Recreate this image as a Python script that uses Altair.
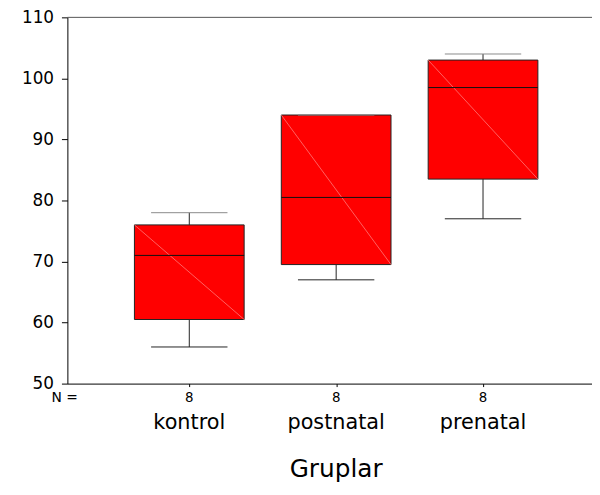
import altair as alt
import pandas as pd

# ---- data ----
groups = ["kontrol", "postnatal", "prenatal"]
n_counts = [8, 8, 8]
mins = [56, 67, 77]
q1s = [60.5, 69.5, 83.5]
medians = [71, 80.5, 98.5]
q3s = [76, 94, 103]
maxs = [78, 94, 104]

y_ticks = [50, 60, 70, 80, 90, 100, 110]

df = pd.DataFrame({
    "group": groups,
    "n": n_counts,
    "lo_w": mins,
    "q1": q1s,
    "med": medians,
    "q3": q3s,
    "hi_w": maxs,
})
df["pos"] = range(1, len(groups) + 1)

FONT = "DejaVu Sans"
BOX_HALF = 0.3735
CAP_HALF = 0.26

xscale = alt.Scale(domain=[0.17, 3.742], nice=False, zero=False)
yscale = alt.Scale(domain=[50, 110], nice=False, zero=False)

base = alt.Chart(df).transform_calculate(
    bx1=f"datum.pos - {BOX_HALF}",
    bx2=f"datum.pos + {BOX_HALF}",
    cx1=f"datum.pos - {CAP_HALF}",
    cx2=f"datum.pos + {CAP_HALF}",
)

xaxis = alt.Axis(values=[1, 2, 3], labels=False, title=None, tickSize=3,
                 tickColor="black", domainColor="black", domainWidth=1,
                 grid=False)
yaxis = alt.Axis(values=y_ticks, title=None, tickSize=6, tickColor="black",
                 domainColor="black", domainWidth=1, grid=False,
                 labelFont=FONT, labelFontSize=17, labelColor="black",
                 labelPadding=8)

top_line = alt.Chart(pd.DataFrame({"v": [110]})).mark_rule(
    color="#555555", strokeWidth=1
).encode(y=alt.Y("v:Q", scale=yscale, axis=yaxis))

whisk_low = base.mark_rule(color="#222222", strokeWidth=1).encode(
    x=alt.X("pos:Q", scale=xscale, axis=xaxis),
    y=alt.Y("lo_w:Q", scale=yscale),
    y2="q1:Q",
)
whisk_high = base.mark_rule(color="#222222", strokeWidth=1).encode(
    x=alt.X("pos:Q", scale=xscale),
    y=alt.Y("q3:Q", scale=yscale),
    y2="hi_w:Q",
)
cap_low = base.mark_rule(color="#222222", strokeWidth=1).encode(
    x=alt.X("cx1:Q", scale=xscale), x2="cx2:Q",
    y=alt.Y("lo_w:Q", scale=yscale),
)
cap_high = base.mark_rule(color="#8a8a8a", strokeWidth=1).encode(
    x=alt.X("cx1:Q", scale=xscale), x2="cx2:Q",
    y=alt.Y("hi_w:Q", scale=yscale),
)
box = base.mark_rect(fill="#ff0000", stroke="#222222", strokeWidth=1).encode(
    x=alt.X("bx1:Q", scale=xscale), x2="bx2:Q",
    y=alt.Y("q1:Q", scale=yscale), y2="q3:Q",
)
diag = base.mark_rule(color="#ff7a7a", strokeWidth=0.8).encode(
    x=alt.X("bx1:Q", scale=xscale), x2="bx2:Q",
    y=alt.Y("q3:Q", scale=yscale), y2="q1:Q",
)
median = base.mark_rule(color="#111111", strokeWidth=1).encode(
    x=alt.X("bx1:Q", scale=xscale), x2="bx2:Q",
    y=alt.Y("med:Q", scale=yscale),
)

n_text = base.mark_text(font=FONT, fontSize=13.5, color="black",
                        baseline="alphabetic", align="center").encode(
    x=alt.X("pos:Q", scale=xscale),
    y=alt.value(389),
    text="n:Q",
)
group_text = base.mark_text(font=FONT, fontSize=21, color="black",
                            baseline="alphabetic", align="center").encode(
    x=alt.X("pos:Q", scale=xscale),
    y=alt.value(416),
    text="group:N",
)
n_label = alt.Chart(pd.DataFrame({"t": ["N ="]})).mark_text(
    font=FONT, fontSize=14, color="black", baseline="alphabetic", align="left"
).encode(x=alt.value(-16), y=alt.value(389), text="t:N")

title_text = alt.Chart(pd.DataFrame({"t": ["Gruplar"], "p": [2]})).mark_text(
    font=FONT, fontSize=25, color="black", baseline="alphabetic", align="center"
).encode(x=alt.X("p:Q", scale=xscale), y=alt.value(464), text="t:N")

chart = alt.layer(
    top_line, whisk_low, whisk_high, box, diag, median, cap_low, cap_high,
    n_text, group_text, n_label, title_text,
).properties(
    width=530,
    height=370,
    autosize=alt.AutoSizeParams(type="none"),
    padding={"left": 60, "top": 7, "right": 0, "bottom": 102},
    background="white",
).configure_view(stroke=None)

chart.save("out.html", embed_options={"renderer": "svg", "actions": False})
